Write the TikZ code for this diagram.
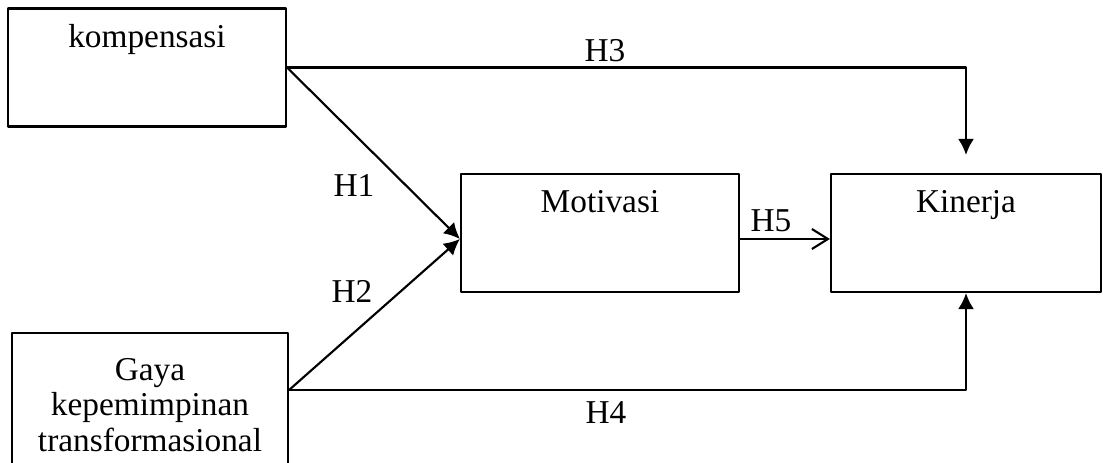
\documentclass[tikz,border=0pt]{standalone}
\usepackage{fontspec}
\setmainfont{Liberation Serif}
\usetikzlibrary{arrows.meta}
\begin{document}
\begin{tikzpicture}[x=0.75pt,y=-0.75pt,line join=round,line cap=round,line width=1.6pt,
  font=\fontsize{25}{26.5}\selectfont,>={Latex[length=12pt,width=12pt]}]
	\tikzset{box/.style={draw,rectangle,minimum width=208.5pt,minimum height=88.5pt,inner sep=0pt},
	         boxtext/.style={anchor=base,yshift=-30pt},
	         hyp/.style={inner sep=0pt}}
	\useasboundingbox (0,0) rectangle (1103,463);
	% variabel
	\node[box,label={[boxtext,name=komt]north:kompensasi}] (kom) at (147,67.5) {};
	\node[box,label={[boxtext,name=mott]north:Motivasi}] (mot) at (600,233) {};
	\node[box,minimum width=202.5pt,label={[boxtext,name=kint]north:Kinerja}] (kin) at (966,233) {};
	\node[box,minimum width=207pt,minimum height=108pt,align=center] (gaya) at (150,405)
		{Gaya\\kepemimpinan\\transformasional};
	% hubungan
	\draw[->] (kom.east) -- ([yshift=-4.5pt]mot.west);
	\draw[->] ([yshift=11.25pt]gaya.east) -- ([yshift=-4.5pt]mot.west);
	\draw[->] (kom.east) -| ([yshift=13.5pt]kin.north);
	\draw[->] ([yshift=11.25pt]gaya.east) -| (kin.south);
	\draw[-{Straight Barb[length=12pt,width=15pt]}] ([yshift=-4.5pt]mot.east) -- ([yshift=-4.5pt]kin.west);
	% label hipotesis
	\node[hyp] (h1) at (354,185) {H1};
	\node[hyp] (h2) at (352,291) {H2};
	\node[hyp] (h3) at (605,51) {H3};
	\node[hyp] (h4) at (606,413) {H4};
	\node[hyp] (h5) at (771,221) {H5};
\end{tikzpicture}
\end{document}
